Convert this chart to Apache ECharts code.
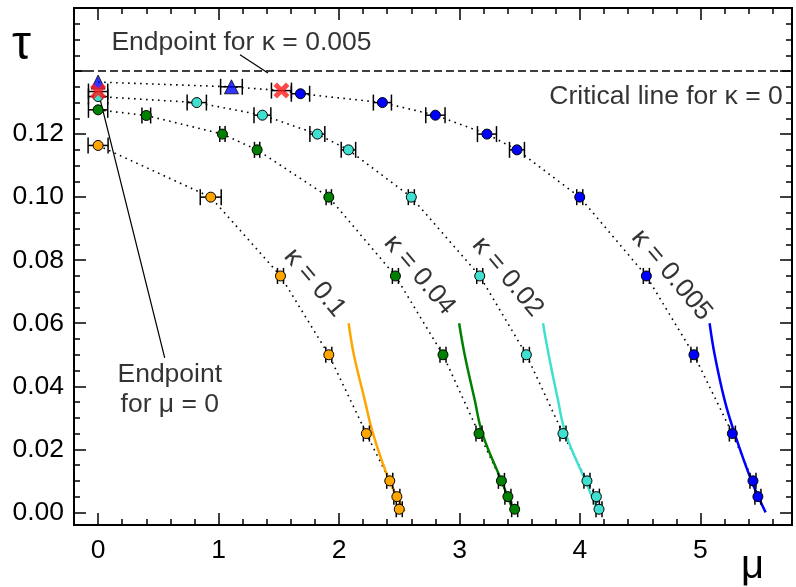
<!DOCTYPE html>
<html>
<head>
<meta charset="utf-8">
<script src="https://cdn.jsdelivr.net/npm/echarts@6/dist/echarts.min.js"></script>
<style>
  html, body { margin: 0; padding: 0; background: #fff; }
  #chart { width: 796px; height: 587px; }
</style>
</head>
<body>
<div id="chart"></div>
<script>
// axis ranges and ticks
const muRange = [-0.2, 5.76]
const tauRange = [-0.004, 0.16]
const xMajor = [0, 1, 2, 3, 4, 5]
const yMajor = [0, 0.02, 0.04, 0.06, 0.08, 0.10, 0.12, 0.14, 0.16]
const yLabels = [0, 0.02, 0.04, 0.06, 0.08, 0.10, 0.12]
const tauCrit = 0.1372

// kappa = 0.1 (orange)
const orangeMu = [0, 0.935, 1.514, 1.915, 2.227, 2.421, 2.48, 2.50]
const orangeTau = [0.1164, 0.100, 0.075, 0.050, 0.025, 0.010, 0.005, 0.001]
const orangeErr = [0.083, 0.087, 0.025, 0.025, 0.025, 0.025, 0.025, 0.025]
const orangeFit = [[2.08, 0.06], [2.123, 0.05], [2.213, 0.0357], [2.282, 0.025], [2.415, 0.0103], [2.545, 0.0003]]

// kappa = 0.04 (green)
const greenMu = [0, 0.40, 1.032, 1.32, 1.915, 2.468, 2.863, 3.162, 3.348, 3.402, 3.458]
const greenTau = [0.1277, 0.1259, 0.120, 0.115, 0.100, 0.075, 0.050, 0.025, 0.010, 0.005, 0.001]
const greenErr = [0.08, 0.036, 0.022, 0.022, 0.022, 0.025, 0.025, 0.025, 0.025, 0.025, 0.025]
const greenFit = [[2.997, 0.06], [3.043, 0.05], [3.126, 0.0357], [3.19, 0.025], [3.348, 0.010], [3.444, 0.0007]]

// kappa = 0.02 (turquoise)
const cyanMu = [0, 0.819, 1.364, 1.82, 2.078, 2.60, 3.168, 3.555, 3.859, 4.058, 4.136, 4.158]
const cyanTau = [0.1319, 0.130, 0.126, 0.120, 0.115, 0.100, 0.075, 0.050, 0.025, 0.010, 0.005, 0.001]
const cyanErr = [0.08, 0.08, 0.07, 0.062, 0.06, 0.025, 0.025, 0.025, 0.025, 0.025, 0.025, 0.025]
const cyanFit = [[3.693, 0.06], [3.74, 0.05], [3.817, 0.0357], [3.881, 0.025], [4.045, 0.010], [4.145, 0.0007]]

// kappa = 0.005 (blue)
const blueMu = [1.68, 2.36, 2.80, 3.228, 3.477, 3.998, 4.551, 4.946, 5.265, 5.436, 5.477]
const blueTau = [0.1328, 0.130, 0.126, 0.120, 0.115, 0.100, 0.075, 0.050, 0.025, 0.010, 0.005]
const blueErr = [0.076, 0.075, 0.08, 0.079, 0.062, 0.025, 0.025, 0.025, 0.025, 0.025, 0.025]
const blueFit = [[5.076, 0.06], [5.118, 0.05], [5.2, 0.0357], [5.284, 0.025], [5.422, 0.0102], [5.541, 0.0]]

// blue triangles and red crosses (endpoints)
const triMu = [0, 1.107]
const triTau = [0.1365, 0.135]
const triErr = [0, 0.09]
const crossMu = [0, 1.522]
const crossTau = [0.1335, 0.1338]
const crossErr = [0.08, 0.083]

// annotations (data coordinates)
const kappaLabels = [
  { text: 'κ = 0.1', at: [1.798, 0.0728] },
  { text: 'κ = 0.04', at: [2.668, 0.0753] },
  { text: 'κ = 0.02', at: [3.40, 0.0747] },
  { text: 'κ = 0.005', at: [4.761, 0.0753] }
]
const endpointKappaLine = [[1.178, 0.1452], [1.41, 0.1394]]
const endpointMuLine = [[0.02, 0.1305], [0.553, 0.049]]

const FONT = "'Liberation Sans', Arial, sans-serif"
const FS = 26.5
const COLORS = { orange: '#ffa500', green: '#008000', cyan: '#40e0d0', blue: '#0000ff' }

const zip = (a, b) => a.map((v, i) => [v, b[i]])
const zip3 = (a, b, c) => a.map((v, i) => [v, b[i], c[i]])

const xMinor = []
for (let i = 1; i < 29; i++) { if (i % 5) xMinor.push(+(i * 0.2).toFixed(1)) }
const yMinor = []
for (let i = 1; i < 32; i++) { if (i % 4) yMinor.push(+(i * 0.005).toFixed(3)) }

const chart = echarts.init(document.getElementById('chart'))

const baseX = (pos, major, label) => ({
  type: 'value', position: pos, min: muRange[0], max: muRange[1],
  axisLine: { show: true, onZero: false, lineStyle: { color: '#000', width: 2 } },
  axisTick: { show: true, inside: true, length: major ? 12 : 6, customValues: major ? xMajor : xMinor, lineStyle: { color: '#000', width: 1.5 } },
  axisLabel: label ? { show: true, customValues: xMajor, color: '#000', fontSize: FS, fontFamily: FONT, margin: 12 } : { show: false },
  splitLine: { show: false }
})
const baseY = (pos, major, label) => ({
  type: 'value', position: pos, min: tauRange[0], max: tauRange[1],
  axisLine: { show: true, onZero: false, lineStyle: { color: '#000', width: 2 } },
  axisTick: { show: true, inside: true, length: major ? 12 : 6, customValues: major ? yMajor : yMinor, lineStyle: { color: '#000', width: 1.5 } },
  axisLabel: label ? { show: true, customValues: yLabels, color: '#000', fontSize: FS, fontFamily: FONT, margin: 10, formatter: v => v.toFixed(2) } : { show: false },
  splitLine: { show: false }
})

const dotted = (pts) => ({
  type: 'line', data: pts, symbol: 'none', silent: true, z: 1,
  lineStyle: { color: '#000', width: 1.6, type: [1.6, 4.4] }
})
const fit = (pts, color) => ({
  type: 'line', data: pts, symbol: 'none', smooth: 0.4, silent: true, z: 2,
  lineStyle: { color, width: 2.5 }
})
const dots = (pts, color) => ({
  type: 'scatter', data: pts, symbol: 'circle', symbolSize: 10, z: 5,
  itemStyle: { color, borderColor: '#000', borderWidth: 1, opacity: 1 }
})

const allErr = [
  ...zip3(orangeMu, orangeTau, orangeErr), ...zip3(greenMu, greenTau, greenErr),
  ...zip3(cyanMu, cyanTau, cyanErr), ...zip3(blueMu, blueTau, blueErr),
  ...zip3(triMu, triTau, triErr), ...zip3(crossMu, crossTau, crossErr)
]

const bluePath = [...zip(triMu, triTau), [crossMu[1], crossTau[1]], ...zip(blueMu, blueTau)]
const crossSymbol = 'path://M0,3.5 L3.5,0 L8,4.5 L12.5,0 L16,3.5 L11.5,8 L16,12.5 L12.5,16 L8,11.5 L3.5,16 L0,12.5 L4.5,8 Z'

const textStyle = { color: '#000', fontSize: FS, fontFamily: FONT }

const option = {
  animation: false,
  grid: { left: 74, right: 4, top: 8, bottom: 62, containLabel: false },
  xAxis: [baseX('bottom', true, true), baseX('bottom', false, false), baseX('top', true, false), baseX('top', false, false)],
  yAxis: [baseY('left', true, true), baseY('left', false, false), baseY('right', true, false), baseY('right', false, false)],
  graphic: [
    { type: 'text', left: 12, top: 22, style: { text: 'τ', fill: '#000', fontSize: 48, fontFamily: FONT } },
    { type: 'text', left: 741, top: 547, style: { text: 'μ', fill: '#000', fontSize: 40, fontFamily: FONT } }
  ],
  series: [
    {
      ...dotted(zip(orangeMu, orangeTau)),
      markLine: {
        silent: true, symbol: 'none', label: { show: false },
        lineStyle: { color: '#000', width: 1.5, type: [8, 4] },
        data: [{ yAxis: tauCrit }]
      }
    },
    dotted(zip(greenMu, greenTau)),
    dotted(zip(cyanMu, cyanTau)),
    dotted(bluePath),
    fit(orangeFit, COLORS.orange),
    fit(greenFit, COLORS.green),
    fit(cyanFit, COLORS.cyan),
    fit(blueFit, COLORS.blue),
    {
      type: 'custom', data: allErr, z: 3, silent: true,
      encode: { x: 0, y: 1 },
      renderItem: (params, api) => {
        const x = api.value(0), y = api.value(1), e = api.value(2)
        if (!e) return null
        const l = api.coord([x - e, y]), r = api.coord([x + e, y])
        const h = 8
        const st = { stroke: '#000', lineWidth: 1.5 }
        return {
          type: 'group', children: [
            { type: 'line', shape: { x1: l[0], y1: l[1], x2: r[0], y2: r[1] }, style: st },
            { type: 'line', shape: { x1: l[0], y1: l[1] - h, x2: l[0], y2: l[1] + h }, style: st },
            { type: 'line', shape: { x1: r[0], y1: r[1] - h, x2: r[0], y2: r[1] + h }, style: st }
          ]
        }
      }
    },
    dots(zip(orangeMu, orangeTau), COLORS.orange),
    dots(zip(greenMu, greenTau), COLORS.green),
    dots(zip(cyanMu, cyanTau), COLORS.cyan),
    dots(zip(blueMu, blueTau), COLORS.blue),
    {
      type: 'scatter', data: zip(triMu, triTau), symbol: 'triangle', symbolSize: 14, z: 6,
      itemStyle: { color: COLORS.blue, borderColor: '#000', borderWidth: 1 }
    },
    {
      type: 'scatter', data: zip(crossMu, crossTau), symbol: crossSymbol, symbolSize: 16, z: 7,
      itemStyle: { color: '#ff1a1a' }
    },
    { type: 'line', data: endpointKappaLine, symbol: 'none', silent: true, lineStyle: { color: '#000', width: 1.2 } },
    { type: 'line', data: endpointMuLine, symbol: 'none', silent: true, lineStyle: { color: '#000', width: 1.2 } },
    {
      type: 'scatter', symbolSize: 0, silent: true, z: 8,
      data: kappaLabels.map(k => ({ value: k.at, name: k.text })),
      label: { show: true, position: 'inside', formatter: p => p.name, rotate: -50, align: 'center', verticalAlign: 'middle', ...textStyle }
    },
    {
      type: 'scatter', symbolSize: 0, silent: true, z: 8,
      data: [
        { value: [1.19, 0.149], name: 'Endpoint for κ = 0.005', label: { align: 'center' } },
        { value: [5.683, 0.1318], name: 'Critical line for κ = 0', label: { align: 'right' } },
        { value: [0.595, 0.0389], name: 'Endpoint\nfor μ = 0', label: { align: 'center', lineHeight: 30 } }
      ],
      label: { show: true, position: 'inside', formatter: p => p.name, verticalAlign: 'middle', ...textStyle }
    }
  ]
}

chart.setOption(option)
</script>
</body>
</html>
